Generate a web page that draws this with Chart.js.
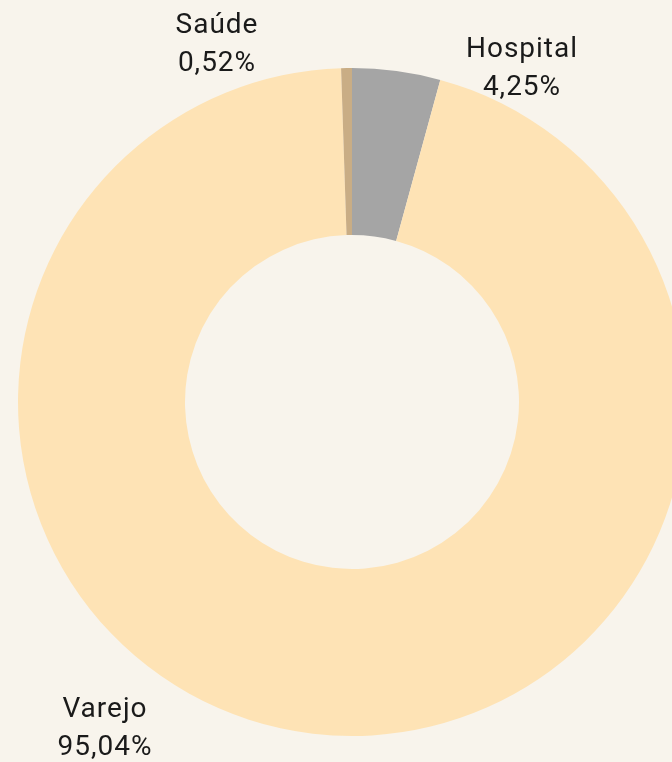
<!DOCTYPE html>
<html>
<head>
<meta charset="utf-8">
<script src="https://cdn.jsdelivr.net/npm/chart.js@4"></script>
<style>
	html, body { margin: 0; padding: 0; background: #F8F4EC; overflow: hidden; }
	#wrap { position: absolute; left: 0; top: 0; width: 704px; height: 762px; }
</style>
</head>
<body>
<div id="wrap"><canvas id="doughnutChart"></canvas></div>
<script>
// data (slice order goes clockwise from the top)
var labels = ['Hospital', 'Varejo', 'Saúde'];
var values = [4.25, 95.04, 0.52];
var valueText = ['4,25%', '95,04%', '0,52%'];
var colors = ['#A5A5A5', '#FEE3B5', '#C9AD85'];

// label anchors (baseline of first text line), placed by hand like the original
var labelAnchor = [
	{ x: 522, y: 57 },   // Hospital
	{ x: 105, y: 717 },  // Varejo
	{ x: 217, y: 33 }    // Saúde
];

const sliceLabels = {
	id: 'sliceLabels',
	afterDraw: function (chart) {
		var ctx = chart.ctx;
		ctx.save();
		ctx.fillStyle = '#1A1A1A';
		ctx.font = '400 28px Roboto, "Open Sans", sans-serif';
		ctx.letterSpacing = '1px';
		ctx.textAlign = 'center';
		ctx.textBaseline = 'alphabetic';
		labels.forEach(function (lab, i) {
			var p = labelAnchor[i];
			ctx.fillText(lab, p.x, p.y);
			ctx.fillText(valueText[i], p.x, p.y + 38);
		});
		ctx.restore();
	}
};

const ctx = document.getElementById('doughnutChart');
new Chart(ctx, {
	type: 'doughnut',
	data: {
		labels: labels,
		datasets: [{
			data: values,
			backgroundColor: colors,
			hoverBackgroundColor: colors,
			borderWidth: 0
		}]
	},
	options: {
		responsive: true,
		maintainAspectRatio: false,
		animation: false,
		cutout: '50%',
		layout: {
			padding: { left: 18, right: 18, top: 68, bottom: 26 }
		},
		plugins: {
			legend: { display: false },
			tooltip: { enabled: false }
		}
	},
	plugins: [sliceLabels]
});
</script>
</body>
</html>
